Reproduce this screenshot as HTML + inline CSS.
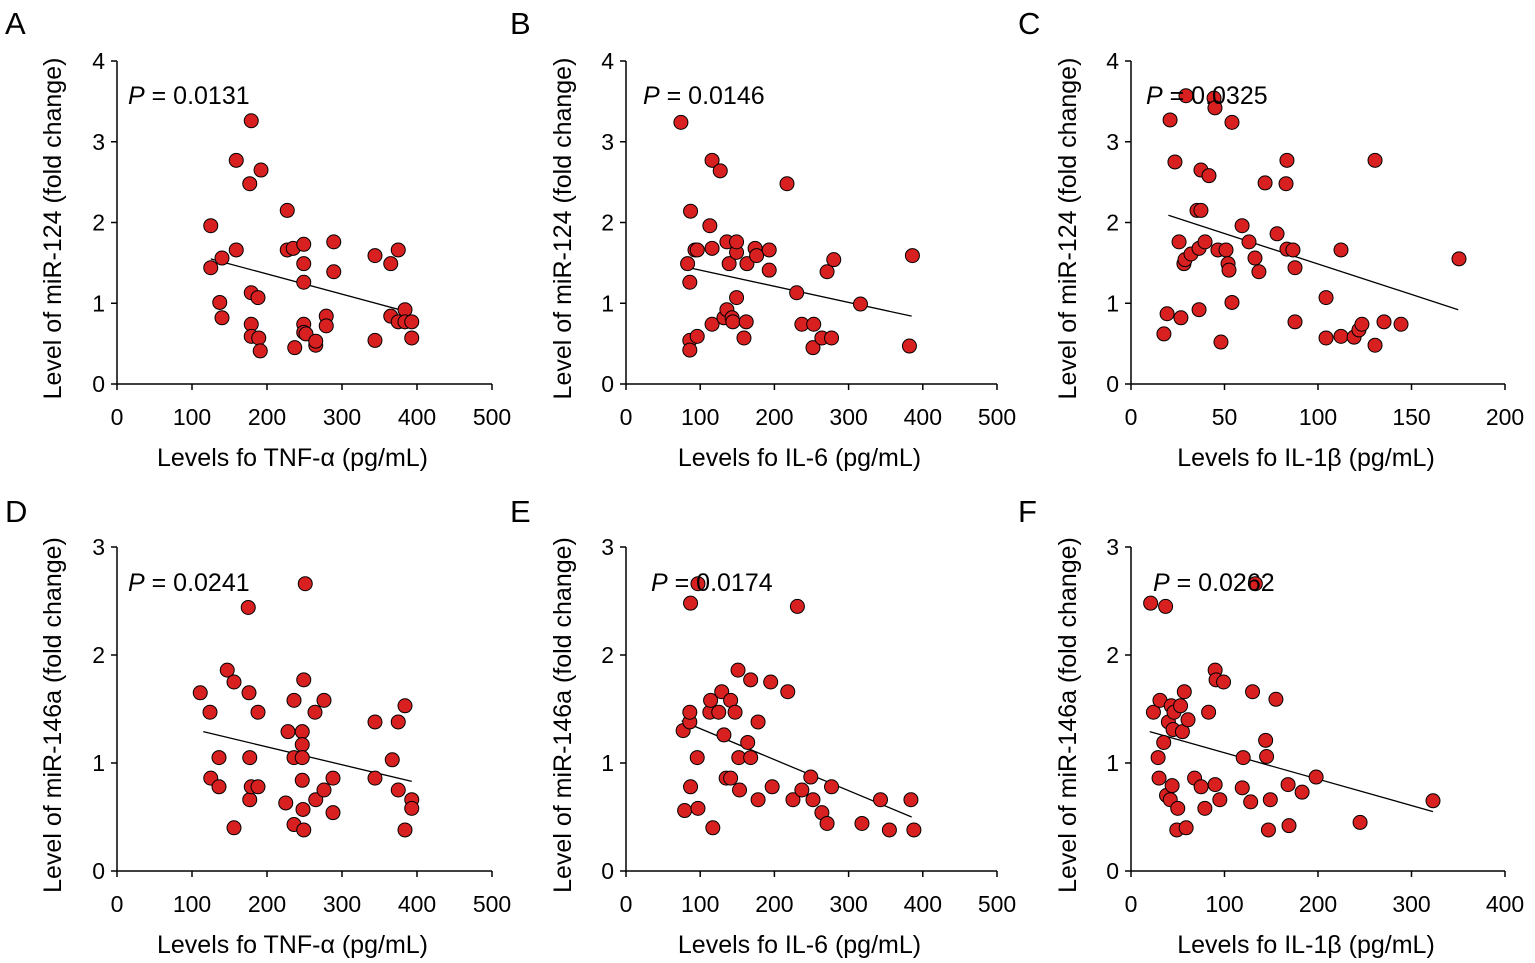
<!DOCTYPE html>
<html><head><meta charset="utf-8"><style>
html,body{margin:0;padding:0;background:#fff;}
svg{display:block;font-family:"Liberation Sans",Arial,sans-serif;}
</style></head><body>
<svg id="chart" width="1535" height="963" viewBox="0 0 1535 963" xmlns="http://www.w3.org/2000/svg"></svg>
<script>
const ptsA=[[125,1.96],[125,1.44],[140,1.56],[137,1.01],[140,0.82],[159,1.66],[159,2.77],[179,3.26],[177,2.48],[179,1.13],[179,0.74],[179,0.59],[188,1.07],[189,0.57],[191,0.41],[192,2.65],[227,2.15],[227,1.66],[235,1.68],[237,0.45],[249,1.73],[249,1.49],[249,1.26],[249,0.74],[249,0.64],[252,0.62],[265,0.48],[265,0.53],[279,0.84],[279,0.72],[289,1.76],[289,1.39],[344,1.59],[344,0.54],[365,1.49],[375,1.66],[365,0.84],[375,0.77],[384,0.92],[384,0.77],[393,0.77],[393,0.57]];
const ptsB=[[74,3.24],[87,2.14],[83,1.49],[86,1.26],[86,0.54],[86,0.42],[96,0.59],[93,1.66],[96,1.66],[116,2.77],[127,2.64],[113,1.96],[116,1.68],[116,0.74],[132,0.82],[136,0.92],[136,1.76],[139,1.49],[143,0.82],[144,0.77],[149,1.07],[149,1.63],[149,1.76],[159,0.57],[162,0.77],[163,1.49],[174,1.68],[176,1.59],[193,1.66],[193,1.41],[217,2.48],[230,1.13],[237,0.74],[253,0.74],[252,0.45],[264,0.57],[271,1.39],[277,0.57],[280,1.54],[316,0.99],[382,0.47],[386,1.59]];
const ptsC=[[17.6,0.62],[19.3,0.87],[20.9,3.27],[23.5,2.75],[25.7,1.76],[26.7,0.82],[28.3,1.49],[28.9,1.54],[29.4,3.57],[32.1,1.61],[35.3,2.15],[36.4,1.68],[36.4,0.92],[37.4,2.65],[37.4,2.15],[39.6,1.76],[41.7,2.58],[44.4,3.54],[44.9,3.42],[46.5,1.66],[48.1,0.52],[50.8,1.66],[51.9,1.49],[52.4,1.41],[54,3.24],[54,1.01],[59.4,1.96],[63.1,1.76],[66.3,1.56],[68.4,1.39],[71.7,2.49],[78.1,1.86],[82.9,2.48],[83.4,2.77],[83.4,1.67],[86.6,1.66],[87.7,1.44],[87.7,0.77],[104.3,1.07],[104.3,0.57],[112.3,1.66],[112.3,0.59],[119.3,0.58],[121.9,0.67],[123.5,0.74],[130.5,2.77],[130.5,0.48],[135.3,0.77],[144.4,0.74],[175.4,1.55]];
const ptsD=[[111,1.65],[124,1.47],[125,0.86],[136,0.78],[136,1.05],[147,1.86],[156,1.75],[156,0.40],[175,2.44],[176,1.65],[177,1.05],[177,0.66],[179,0.78],[188,1.47],[188,0.78],[225,0.63],[228,1.29],[236,1.58],[236,1.05],[236,0.43],[247,1.29],[247,1.17],[247,1.05],[247,0.84],[248,0.57],[249,0.38],[251,2.66],[249,1.77],[264,1.47],[265,0.66],[276,1.58],[276,0.75],[288,0.86],[288,0.54],[344,1.38],[344,0.86],[367,1.03],[375,1.38],[375,0.75],[384,1.53],[384,0.38],[393,0.66],[393,0.58]];
const ptsE=[[97,2.66],[87,2.48],[77,1.30],[79,0.56],[86,1.38],[86,1.47],[87,0.78],[96,1.05],[97,0.58],[113,1.47],[114,1.58],[117,0.40],[125,1.47],[129,1.66],[132,1.26],[135,0.86],[141,0.86],[141,1.58],[147,1.47],[151,1.86],[152,1.05],[153,0.75],[164,1.19],[168,1.77],[168,1.05],[178,0.66],[178,1.38],[195,1.75],[197,0.78],[218,1.66],[231,2.45],[225,0.66],[237,0.75],[249,0.87],[252,0.66],[264,0.54],[271,0.44],[277,0.78],[318,0.44],[343,0.66],[355,0.38],[384,0.66],[388,0.38]];
const ptsF=[[21,2.48],[37,2.45],[24,1.47],[31,1.58],[29,1.05],[30,0.86],[35,1.19],[38,0.70],[40,1.38],[43,1.53],[42,0.66],[44,0.79],[45,1.31],[46,1.47],[49,0.38],[50,0.58],[53,1.53],[55,1.29],[57,1.66],[59,0.40],[61,1.40],[68,0.86],[75,0.78],[79,0.58],[83,1.47],[90,0.80],[90,1.86],[91,1.77],[95,0.66],[99,1.75],[120,1.05],[119,0.77],[128,0.64],[130,1.66],[133,2.66],[144,1.21],[145,1.06],[147,0.38],[149,0.66],[155,1.59],[168,0.80],[169,0.42],[183,0.73],[198,0.87],[245,0.45],[323,0.65]];
const fitA=[[125,1.55],[393,0.88]];
const fitB=[[75,1.46],[385,0.84]];
const fitC=[[20,2.09],[175,0.92]];
const fitD=[[115,1.29],[393,0.83]];
const fitE=[[75,1.39],[385,0.5]];
const fitF=[[20,1.29],[323,0.55]];
const pLabels=["0.0131","0.0146","0.0325","0.0241","0.0174","0.0262"];
const xTitles=["Levels fo TNF-α (pg/mL)","Levels fo IL-6 (pg/mL)","Levels fo IL-1β (pg/mL)","Levels fo TNF-α (pg/mL)","Levels fo IL-6 (pg/mL)","Levels fo IL-1β (pg/mL)"];
const yTitles=["Level of miR-124 (fold change)","Level of miR-124 (fold change)","Level of miR-124 (fold change)","Level of miR-146a (fold change)","Level of miR-146a (fold change)","Level of miR-146a (fold change)"];
const xTicksA=[0,100,200,300,400,500], xTicksC=[0,50,100,150,200], xTicksF=[0,100,200,300,400];
const yTicks1=[0,1,2,3,4], yTicks2=[0,1,2,3];

const NS="http://www.w3.org/2000/svg";
const svg=document.getElementById('chart');
function mk(tag,attrs,parent){const e=document.createElementNS(NS,tag);for(const k in attrs)e.setAttribute(k,attrs[k]);(parent||svg).appendChild(e);return e;}

const panels=[
 {L:"A",x0:117,x1:492,y0:384,y1:61,xt:xTicksA,yt:yTicks1,pts:ptsA,fit:fitA,lx:5,ly:34,px:128,py:104,ytx:61},
 {L:"B",x0:626,x1:997,y0:384,y1:61,xt:xTicksA,yt:yTicks1,pts:ptsB,fit:fitB,lx:510,ly:34,px:643,py:104,ytx:571},
 {L:"C",x0:1131,x1:1505,y0:384,y1:61,xt:xTicksC,yt:yTicks1,pts:ptsC,fit:fitC,lx:1018,ly:34,px:1146,py:104,ytx:1076},
 {L:"D",x0:117,x1:492,y0:871,y1:547,xt:xTicksA,yt:yTicks2,pts:ptsD,fit:fitD,lx:5,ly:522,px:128,py:591,ytx:61},
 {L:"E",x0:626,x1:997,y0:871,y1:547,xt:xTicksA,yt:yTicks2,pts:ptsE,fit:fitE,lx:510,ly:522,px:651,py:591,ytx:571},
 {L:"F",x0:1131,x1:1505,y0:871,y1:547,xt:xTicksF,yt:yTicks2,pts:ptsF,fit:fitF,lx:1018,ly:522,px:1153,py:591,ytx:1076}
];
panels.forEach((p,i)=>{
  const xmax=p.xt[p.xt.length-1], ymax=p.yt[p.yt.length-1];
  const sx=v=>p.x0+(v/xmax)*(p.x1-p.x0);
  const sy=v=>p.y0-(v/ymax)*(p.y0-p.y1);
  const g=mk('g',{});
  
  
  const lt=mk('text',{x:p.lx,y:p.ly,'font-size':31,fill:'#000'},g);lt.textContent=p.L;
  
  
  const ya=mk('line',{x1:p.x0,y1:p.y0,x2:p.x0,y2:p.y1,stroke:'#000','stroke-width':1.5},g);
  
  
  const xa=mk('line',{x1:p.x0,y1:p.y0,x2:p.x1,y2:p.y0,stroke:'#000','stroke-width':1.5},g);
  
  
  p.yt.forEach(t=>{
    mk('line',{x1:p.x0-6,y1:sy(t),x2:p.x0,y2:sy(t),stroke:'#000','stroke-width':1.5},g);
    const tx=mk('text',{x:p.x0-12,y:sy(t)+8,'font-size':23,'text-anchor':'end',fill:'#000'},g);tx.textContent=t;
    
    
  });
  p.xt.forEach(t=>{
    mk('line',{x1:sx(t),y1:p.y0,x2:sx(t),y2:p.y0+6,stroke:'#000','stroke-width':1.5},g);
    const tx=mk('text',{x:sx(t),y:p.y0+41,'font-size':23,'text-anchor':'middle',fill:'#000'},g);tx.textContent=t;
    
    
  });
  const xt=mk('text',{x:(p.x0+p.x1)/2-12,y:p.y0+82,'font-size':25,'text-anchor':'middle',fill:'#000'},g);xt.textContent=xTitles[i];
  
  
  const cy=(p.y0+p.y1)/2+6;
  const yt=mk('text',{x:p.ytx,y:cy,'font-size':25,'text-anchor':'middle',fill:'#000',transform:`rotate(-90 ${p.ytx} ${cy})`},g);yt.textContent=yTitles[i];
  
  
  const fl=mk('line',{x1:sx(p.fit[0][0]),y1:sy(p.fit[0][1]),x2:sx(p.fit[1][0]),y2:sy(p.fit[1][1]),stroke:'#000','stroke-width':1.3},g);
  
  
  p.pts.forEach(d=>{
    const c=mk('circle',{cx:sx(d[0]),cy:sy(d[1]),r:7,fill:'#d7201f',stroke:'#000','stroke-width':1},g);
    
    
  });
  const pt=mk('text',{x:p.px,y:p.py,'font-size':25,fill:'#000'},g);
  pt.innerHTML='<tspan font-style="italic">P</tspan> = '+pLabels[i];
  
  
});
</script>
</body></html>
